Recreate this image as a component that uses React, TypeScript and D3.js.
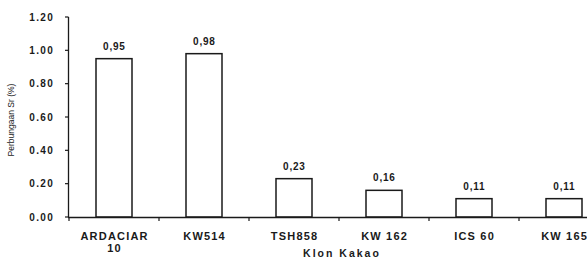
import React from "react";
import * as d3 from "d3";

const categories: string[][] = [["ARDACIAR", "10"], ["KW514"], ["TSH858"], ["KW 162"], ["ICS 60"], ["KW 165"]];
const values: number[] = [0.95, 0.98, 0.23, 0.16, 0.11, 0.11];
const yTicks: number[] = [0, 0.2, 0.4, 0.6, 0.8, 1.0, 1.2];
const xTitle = "Klon Kakao";
const yTitle = "Perbungaan Sr (%)";

const W = 587;
const H = 259;
const font = "'Liberation Sans', Arial, sans-serif";
const ink = "#1a1a1a";

export default function App() {
  const keys = categories.map((c) => c.join(" "));
  const x = d3.scaleBand<string>().domain(keys).range([69, 609]).paddingInner(0.6).paddingOuter(0.3);
  const y = d3.scaleLinear().domain([0, 1.2]).range([217, 17]);
  const fmt = (v: number) => d3.format(".2f")(v).replace(".", ",");
  const step = x.step();
  return (
    <svg width={W} height={H} style={{ position: "absolute", left: 0, top: 0, background: "#fff" }}>
      {/* y axis */}
      <line x1={68.5} x2={68.5} y1={y(1.2)} y2={y(0)} stroke={ink} strokeWidth={1.3} />
      {yTicks.map((t) => (
        <g key={t}>
          <line x1={65} x2={68.5} y1={y(t)} y2={y(t)} stroke={ink} strokeWidth={1.2} />
          <text x={54} y={y(t)} dy="0.35em" textAnchor="end" fontFamily={font} fontSize={10} fontWeight="bold" letterSpacing={1.3} fill={ink}>
            {t.toFixed(2)}
          </text>
        </g>
      ))}
      <text
        transform={`translate(14,${120}) rotate(-90)`}
        textAnchor="middle"
        fontFamily={font}
        fontSize={8.5}
        fill={ink}
      >
        {yTitle}
      </text>
      {/* bars */}
      {keys.map((k, i) => (
        <g key={k}>
          <rect
            x={x(k)!}
            y={y(values[i])}
            width={x.bandwidth()}
            height={y(0) - y(values[i])}
            fill="#fff"
            stroke={ink}
            strokeWidth={1.5}
          />
          <text
            x={x(k)! + x.bandwidth() / 2 + 0.4}
            y={y(values[i]) - 9}
            textAnchor="middle"
            fontFamily={font}
            fontSize={10}
            fontWeight="bold"
            letterSpacing={0.8}
            fill={ink}
          >
            {fmt(values[i])}
          </text>
          {categories[i].map((line, j) => (
            <text
              key={j}
              x={x(k)! + x.bandwidth() / 2 + 0.6}
              y={240 + j * 12}
              textAnchor="middle"
              fontFamily={font}
              fontSize={11}
              fontWeight="bold"
              letterSpacing={1.2}
              fill={ink}
            >
              {line}
            </text>
          ))}
        </g>
      ))}
      {/* x axis */}
      <line x1={68} x2={587} y1={y(0) + 0.5} y2={y(0) + 0.5} stroke={ink} strokeWidth={1.3} />
      {keys.map((k) => (
        <line
          key={k}
          x1={x(k)! - (step - x.bandwidth()) / 2}
          x2={x(k)! - (step - x.bandwidth()) / 2}
          y1={y(0)}
          y2={y(0) + 4}
          stroke={ink}
          strokeWidth={1.2}
        />
      ))}
      <text x={342} y={257} textAnchor="middle" fontFamily={font} fontSize={10.5} fontWeight="bold" letterSpacing={2} fill={ink}>
        {xTitle}
      </text>
    </svg>
  );
}
